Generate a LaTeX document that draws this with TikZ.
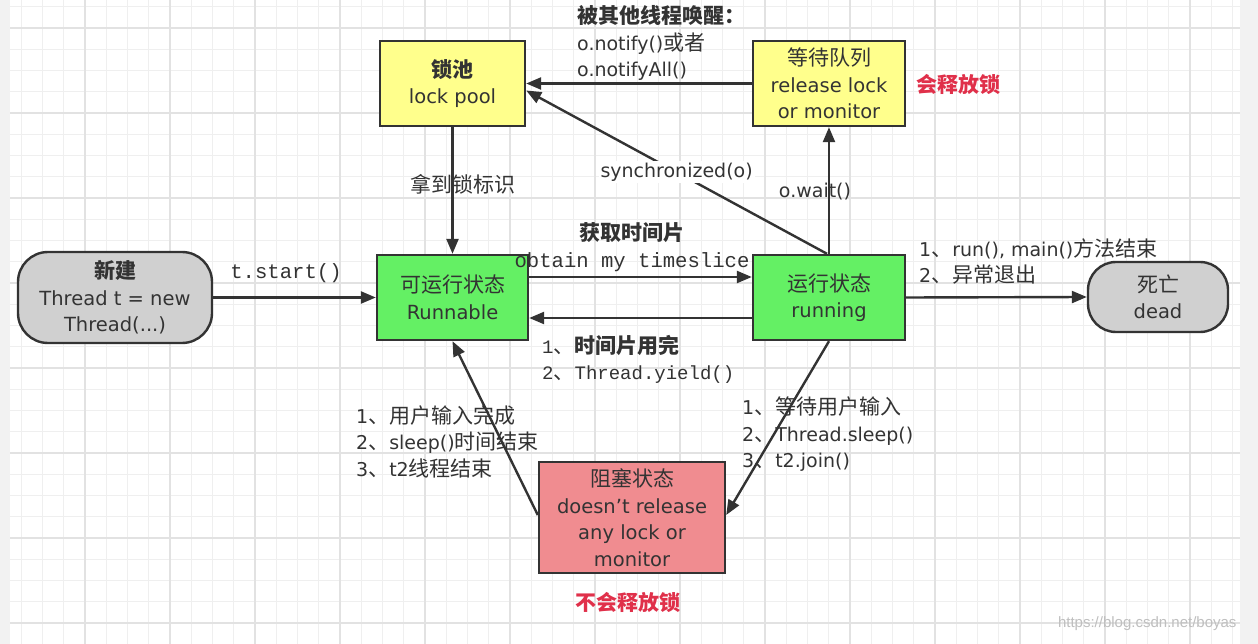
\documentclass[tikz,border=0pt]{standalone}
\usepackage{fontspec}
\setmainfont{DejaVu Sans}
\newfontfamily\cjkf{Noto Sans CJK SC}
\newfontfamily\monof{Liberation Mono}
\newfontfamily\wmf{Liberation Sans}
\newcommand\zhtxt[1]{{\cjkf\fontsize{21}{27}\selectfont #1}}
\usetikzlibrary{arrows.meta}
\definecolor{bordc}{HTML}{333333}
\definecolor{grayf}{HTML}{D0D0D0}
\definecolor{greenf}{HTML}{64F064}
\definecolor{yellowf}{HTML}{FFFF8C}
\definecolor{pinkf}{HTML}{F08C90}
\definecolor{redt}{HTML}{E0304A}
\definecolor{minorg}{HTML}{EFEFEF}
\definecolor{majorg}{HTML}{E2E2E2}
\tikzset{
  box/.style={draw=bordc, line width=2.4pt, align=center, text=bordc,
    font=\fontsize{19.5}{26.5}\selectfont, inner sep=2pt},
  stadium/.style={box, fill=grayf, rounded corners=30pt},
  greenbox/.style={box, fill=greenf, minimum width=151pt, minimum height=85pt},
  yellowbox/.style={box, fill=yellowf, minimum height=85pt},
  pinkbox/.style={box, fill=pinkf, minimum width=186pt, minimum height=111pt},
  arr/.style={draw=bordc, line width=2.4pt, -{Triangle[length=15pt,width=12pt]}},
  lbl/.style={text=bordc, font=\fontsize{19}{26.5}\selectfont, inner sep=1pt},
  monolbl/.style={text=bordc, font=\monof\fontsize{20.6}{27}\selectfont, inner sep=1pt},
  redlbl/.style={text=redt, font=\fontsize{19}{26}\selectfont\bfseries, inner sep=1pt},
}
\begin{document}
\begin{tikzpicture}[x=1pt,y=-1pt]
\useasboundingbox (0,0) rectangle (1258,644);
\fill[white] (0,0) rectangle (1258,644);
\fill[black!5] (0,0) rectangle (10,644);
\fill[black!5] (1240,0) rectangle (1258,644);
% grid
\foreach \i in {1,...,58} \draw[minorg, line width=0.9pt] ({\i*21.25},0) -- ({\i*21.25},644);
\foreach \j in {0,...,29} \draw[minorg, line width=0.9pt] (10,{6.75+\j*21.25}) -- (1240,{6.75+\j*21.25});
\foreach \i in {1,...,14} \draw[majorg, line width=1.2pt] ({\i*85},0) -- ({\i*85},644);
\foreach \j in {0,...,7} \draw[majorg, line width=1.2pt] (10,{28+\j*85}) -- (1240,{28+\j*85});

% nodes
\node[stadium, minimum width=194pt, minimum height=91pt] (new) at (115,297.5)
  {\zhtxt{\bfseries 新建}\\Thread t = new\\Thread(...)};
\node[greenbox] (runnable) at (452.5,297.5) {\zhtxt{可运行状态}\\Runnable};
\node[greenbox, minimum width=152pt] (running) at (829,297.5) {\zhtxt{运行状态}\\running};
\node[stadium, rounded corners=28pt, minimum width=140pt, minimum height=70pt] (dead) at (1158,297) {\zhtxt{死亡}\\dead};
\node[yellowbox, minimum width=145pt] (lockpool) at (452.5,83.5) {\zhtxt{\bfseries 锁池}\\lock pool};
\node[yellowbox, minimum width=152pt] (waitq) at (829,83.5) {\zhtxt{等待队列}\\release lock\\or monitor};
\node[pinkbox] (blocked) at (632,517.5) {\zhtxt{阻塞状态}\\doesn't release\\any lock or\\monitor};

% connectors
\draw[arr] (new.east) -- (runnable.west);
\draw[arr] ([yshift=20.5pt]runnable.east) -- ([yshift=20.5pt]running.west);
\draw[arr] ([yshift=-20.5pt]running.west) -- ([yshift=-20.5pt]runnable.east);
\draw[arr] (running.east) -- (dead.west);
\draw[arr] (lockpool.south) -- (runnable.north);
\draw[arr] (running.north) -- (waitq.south);
\draw[arr] (waitq.west) -- (lockpool.east);
\draw[arr] ([xshift=-2pt]running.north) -- node[lbl, fill=white, pos=0.5, inner sep=2pt] (synclbl) {synchronized(o)} ([yshift=-7pt]lockpool.east);
\draw[arr] (running.south) -- ([yshift=2.5pt]blocked.east);
\draw[arr] ([yshift=2.5pt]blocked.west) -- (runnable.south);

% labels
\node[lbl, anchor=west, align=left] (notify) at (576,43)
  {\zhtxt{\bfseries 被其他线程唤醒：}\\o.notify()\zhtxt{或者}\\o.notifyAll()};
\node[redlbl] (rel) at (958,84) {\zhtxt{\bfseries 会释放锁}};
\node[lbl] (getlock) at (463,184) {\zhtxt{拿到锁标识}};
\node[lbl] (wait) at (815,192) {o.wait()};
\node[lbl] (gettime) at (632,233) {\zhtxt{\bfseries 获取时间片}};
\node[monolbl] (obtain) at (632,262) {obtain my timeslice};
\node[monolbl] (start) at (286,273) {t.start()};
\node[lbl, anchor=west, align=left] (endlbl) at (918,261.5)
  {1\zhtxt{、}run(), main()\zhtxt{方法结束}\\2\zhtxt{、异常退出}};
\node[lbl, anchor=west, align=left] (yieldlbl) at (541,359.5)
  {{\monof 1}\zhtxt{、\bfseries 时间片用完}\\{\monof 2}\zhtxt{、}{\monof Thread.yield()}};
\node[lbl, anchor=west, align=left] (unblock) at (355,441.5)
  {1\zhtxt{、用户输入完成}\\2\zhtxt{、}sleep()\zhtxt{时间结束}\\3\zhtxt{、}t2\zhtxt{线程结束}};
\node[lbl, anchor=west, align=left] (toblock) at (741,434.5)
  {1\zhtxt{、等待用户输入}\\2\zhtxt{、}Thread.sleep()\\3\zhtxt{、}t2.join()};
\node[redlbl] (norel) at (628,602) {\zhtxt{\bfseries 不会释放锁}};
\node[text=black!25, font=\wmf\fontsize{15}{18}\selectfont, anchor=east] (wm) at (1240,624) {https://blog.csdn.net/boyas};
\end{tikzpicture}
\end{document}
